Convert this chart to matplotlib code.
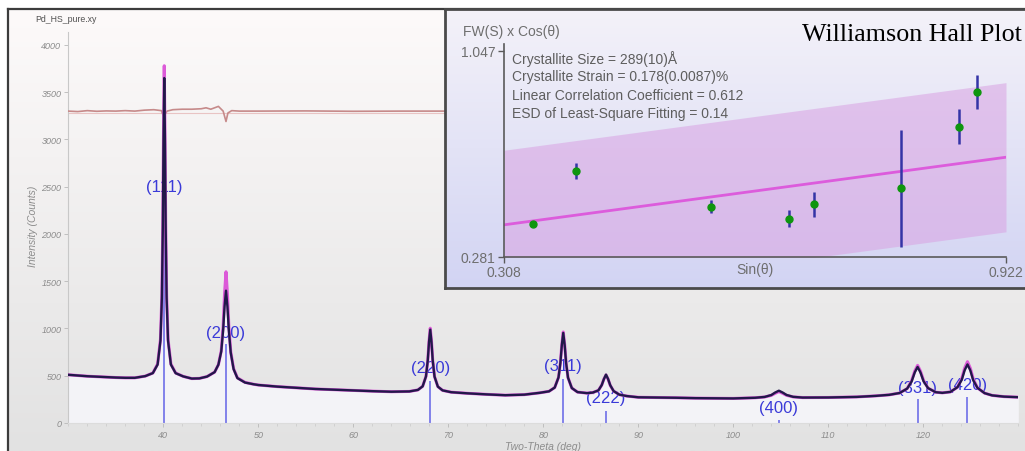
import numpy as np
import matplotlib
matplotlib.use("Agg")
import matplotlib.pyplot as plt
from matplotlib.colors import to_rgb
from matplotlib.ticker import MultipleLocator

# ---------------- data ----------------
two_theta = [30, 31, 32, 33, 34, 35, 36, 37,
             38.1, 38.9, 39.4, 39.7, 39.85, 39.95, 40.02, 40.1, 40.18, 40.25, 40.35, 40.5, 40.8, 41.3, 42.1,
             43.0, 43.8, 44.6, 45.4, 45.8, 46.1, 46.3, 46.45, 46.6, 46.75, 46.9, 47.1, 47.4, 47.8, 48.6,
             49.5, 50, 52, 54, 56, 58, 60, 62, 64,
             65.9, 66.8, 67.3, 67.65, 67.84, 67.97, 68.1, 68.23, 68.36, 68.55, 68.9, 69.4, 70.3,
             72, 74, 76, 78, 79.6,
             80.6, 81.2, 81.6, 81.8, 81.95, 82.1, 82.25, 82.4, 82.6, 83.0, 83.6, 84.6,
             85.2, 85.8, 86.15, 86.38, 86.6, 86.82, 87.05, 87.4, 88.0, 88.8,
             90, 92, 94, 96, 98, 100,
             102.3, 103.3, 104.0, 104.4, 104.8, 105.2, 105.6, 106.3, 107.3,
             110, 113, 115, 116.4, 117.5, 118.3, 118.77, 119.1, 119.4, 119.7, 120.03, 120.5, 121.3,
             122.0, 122.85, 123.6, 124.05, 124.35, 124.65, 124.95, 125.25, 125.7, 126.45, 127.25, 128.5, 130.0]

obs_counts = [510, 502, 495, 490, 485, 481, 478, 478,
              496, 528, 618, 870, 1320, 2065, 2949, 3650, 2949, 2065, 1320, 870, 618, 527, 493,
              470, 472, 491, 538, 617, 756, 985, 1235, 1400, 1232, 979, 744, 570, 475, 428,
              410, 402, 385, 372, 360, 352, 343, 337, 331,
              334, 350, 388, 493, 663, 858, 988, 857, 662, 491, 385, 345, 326,
              314, 303, 294, 300, 319,
              335, 375, 482, 636, 824, 953, 824, 635, 480, 370, 327, 316,
              322, 345, 401, 465, 512, 466, 399, 338, 300, 285,
              272, 270, 267, 263, 261, 260,
              267, 276, 296, 322, 342, 322, 297, 277, 269,
              270, 276, 287, 298, 317, 364, 439, 535, 593, 535, 441, 369, 326,
              319, 329, 379, 457, 557, 620, 556, 453, 372, 316, 292, 279, 273]

calc_counts = [510, 502, 495, 490, 485, 481, 478, 478,
               496, 529, 624, 886, 1355, 2130, 3051, 3780, 3051, 2130, 1355, 886, 624, 529, 493,
               470, 472, 491, 538, 617, 765, 1027, 1371, 1600, 1368, 1021, 753, 575, 478, 430,
               410, 402, 385, 372, 360, 352, 343, 337, 331,
               334, 350, 388, 493, 663, 867, 1003, 866, 662, 491, 385, 345, 326,
               314, 303, 294, 300, 319,
               335, 375, 482, 636, 832, 963, 831, 635, 480, 370, 327, 316,
               322, 345, 401, 465, 508, 463, 397, 338, 300, 285,
               272, 270, 267, 263, 261, 260,
               267, 275, 292, 314, 332, 314, 293, 276, 269,
               270, 276, 287, 298, 317, 364, 448, 549, 610, 549, 450, 369, 326,
               319, 329, 379, 472, 580, 649, 579, 468, 372, 316, 292, 279, 273]

diff_theta = [30, 31, 32, 33, 34, 35, 36, 37, 38, 39, 39.8, 40.0, 40.1, 40.2, 40.4, 41, 42, 43,
              44, 44.5, 45, 45.8, 46.3, 46.6, 46.8, 47.2, 48, 50, 55, 60, 65, 70]
diff_counts = [3300, 3295, 3305, 3298, 3302, 3300, 3305, 3300, 3310, 3315, 3305, 3250, 3235, 3270,
               3300, 3315, 3320, 3320, 3325, 3335, 3320, 3350, 3300, 3190, 3280, 3305, 3300, 3300,
               3302, 3298, 3300, 3300]
diff_zero = 3285

peak_pos = [40.1, 46.6, 68.1, 82.1, 86.6, 104.8, 119.4, 124.65]
peak_hkl = ["(111)", "(200)", "(220)", "(311)", "(222)", "(400)", "(331)", "(420)"]
stick_height = [2350, 835, 448, 465, 130, 32, 254, 278]
label_height = [2500, 960, 590, 606, 265, 166, 380, 412]

yticks_main = [0, 500, 1000, 1500, 2000, 2500, 3000, 3500, 4000]
xticks_main = [40, 50, 60, 70, 80, 90, 100, 110, 120]

# Williamson-Hall inset
wh_sin = [0.3436, 0.3966, 0.561, 0.657, 0.687, 0.794, 0.864, 0.886]
wh_fw = [0.403, 0.600, 0.467, 0.422, 0.475, 0.535, 0.7655, 0.894]
wh_err = [0.006, 0.029, 0.025, 0.031, 0.048, 0.219, 0.065, 0.064]
fit_sin = [0.308, 0.922]
fit_fw = [0.399, 0.651]
band_lo = [0.121, 0.373]
band_hi = [0.677, 0.929]
wh_stats = ["Crystallite Size = 289(10)Å",
            "Crystallite Strain = 0.178(0.0087)%",
            "Linear Correlation Coefficient = 0.612",
            "ESD of Least-Square Fitting = 0.14"]

# ---------------- figure ----------------
W, H = 1025, 452
fig = plt.figure(figsize=(W / 100, H / 100), dpi=100, facecolor="white")


def fx(px):
    return px / W


def fy(py):
    return 1 - py / H


def vgrad(ax, top, bottom, n=256):
    t = np.array(to_rgb(top))
    b = np.array(to_rgb(bottom))
    f = np.linspace(0, 1, n)[:, None]
    img = (t * (1 - f) + b * f)[:, None, :]
    ax.imshow(img, aspect="auto", extent=[0, 1, 0, 1], transform=ax.transAxes,
              interpolation="bilinear", zorder=0)
    ax.set_xlim(0, 1)
    ax.set_ylim(0, 1)
    ax.set_xticks([])
    ax.set_yticks([])


# main panel background
axbg = fig.add_axes([fx(8), 0, 1 - fx(8), fy(10)], zorder=0)
vgrad(axbg, "#fdfafa", "#e2e2e2")
for s in ["right", "bottom"]:
    axbg.spines[s].set_visible(False)
for s in ["left", "top"]:
    axbg.spines[s].set_color("#3c3c3c")
    axbg.spines[s].set_linewidth(1.6)

grey = "#8c8c8c"
sans = "Liberation Sans"

ax = fig.add_axes([fx(68.3), fy(424), fx(1018.3) - fx(68.3), (424 - 33) / H], zorder=1)
ax.set_facecolor("none")
ax.set_xlim(30, 130)
ax.set_ylim(0, 4137)

ax.fill_between(two_theta, obs_counts, 0, color="#f3f3f7", lw=0, zorder=1)
ax.axhline(diff_zero, color="#e9c4c4", lw=0.8, zorder=2)
ax.plot(diff_theta, diff_counts, color="#c68a8a", lw=1.2, zorder=3)
ax.vlines(peak_pos, 0, stick_height, color="#6e6ee8", lw=1.2, zorder=2)
for p, lab, ly in zip(peak_pos, peak_hkl, label_height):
    ax.text(p, ly, lab, ha="center", va="center", color="#3a3ad8", fontsize=12,
            family=sans, zorder=2)
ax.plot(two_theta, calc_counts, color="#dc5ad8", lw=2.2, zorder=4)
ax.plot(two_theta, obs_counts, color="#22184a", lw=1.7, zorder=5)

for s in ["top", "right"]:
    ax.spines[s].set_visible(False)
ax.spines["left"].set_color("#c8c8c8")
ax.spines["bottom"].set_color("#dcdcdc")
ax.spines["left"].set_linewidth(0.8)
ax.spines["bottom"].set_linewidth(0.8)
ax.set_yticks(yticks_main)
ax.set_xticks(xticks_main)
ax.xaxis.set_minor_locator(MultipleLocator(2))
ax.tick_params(axis="both", which="major", length=3, width=0.6, color="#b8b8b8",
               labelsize=6.5, labelcolor=grey, pad=2)
ax.tick_params(axis="x", which="minor", length=2, width=0.5, color="#c8c8c8")
for lab in ax.get_xticklabels() + ax.get_yticklabels():
    lab.set_fontstyle("italic")
    lab.set_family(sans)

fig.text(fx(33), fy(226), "Intensity (Counts)", rotation=90, ha="center", va="center",
         fontsize=7.5, style="italic", color=grey, family=sans)
fig.text(fx(543), fy(447), "Two-Theta (deg)", ha="center", va="center",
         fontsize=7.5, style="italic", color=grey, family=sans)
fig.text(fx(35), fy(20), "Pd_HS_pure.xy", ha="left", va="center", fontsize=6.3,
         color="#505050", family=sans)

# inset background box
axib = fig.add_axes([fx(445), fy(289), 1.02 - fx(445), (289 - 10) / H], zorder=5)
vgrad(axib, "#f4f2f9", "#d2d4f3")
for s in axib.spines.values():
    s.set_color("#4a4a4a")
    s.set_linewidth(2.0)

axi = fig.add_axes([fx(504), fy(257.5), fx(1006) - fx(504), (257.5 - 45) / H], zorder=6)
axi.set_facecolor("none")
axi.set_xlim(0.308, 0.922)
axi.set_ylim(0.281, 1.073)
axi.fill_between(fit_sin, band_lo, band_hi, color="#d9a2e2", alpha=0.55, lw=0, zorder=1)
axi.plot(fit_sin, fit_fw, color="#dc5cdc", lw=2.0, zorder=2)
axi.errorbar(wh_sin, wh_fw, yerr=wh_err, fmt="o", ms=5, color="#0e960e", mec="#0e960e",
             ecolor="#3434a6", elinewidth=1.8, capsize=0, zorder=3)
for s in ["top", "right"]:
    axi.spines[s].set_visible(False)
for s in ["left", "bottom"]:
    axi.spines[s].set_color("#5a5a5a")
    axi.spines[s].set_linewidth(1.2)
axi.set_xticks(fit_sin)
axi.set_xticklabels(["0.308", "0.922"])
axi.set_yticks([0.281, 1.047])
axi.set_yticklabels(["0.281", "1.047"])
axi.tick_params(axis="both", length=4, width=1, color="#5a5a5a", labelsize=10,
                labelcolor="#6e6e6e", pad=2)
for lab in axi.get_xticklabels() + axi.get_yticklabels():
    lab.set_family(sans)
axi.text(0.5, -0.058, "Sin(θ)", transform=axi.transAxes, ha="center", va="center",
         fontsize=10, color="#6e6e6e", family=sans)

fig.text(fx(463), fy(32), "FW(S) x Cos(θ)", ha="left", va="center", fontsize=10,
         color="#6e6e6e", family=sans, zorder=10)
for i, line in enumerate(wh_stats):
    fig.text(fx(512), fy(59 + 18.4 * i), line, ha="left", va="center", fontsize=10,
             color="#5e5e5e", family=sans, zorder=10)
fig.text(fx(802), fy(41), "Williamson Hall Plot", ha="left", va="baseline",
         fontsize=18.7, color="black", family="Liberation Serif", zorder=10)

fig.savefig("out.png", dpi=100, facecolor="white")
